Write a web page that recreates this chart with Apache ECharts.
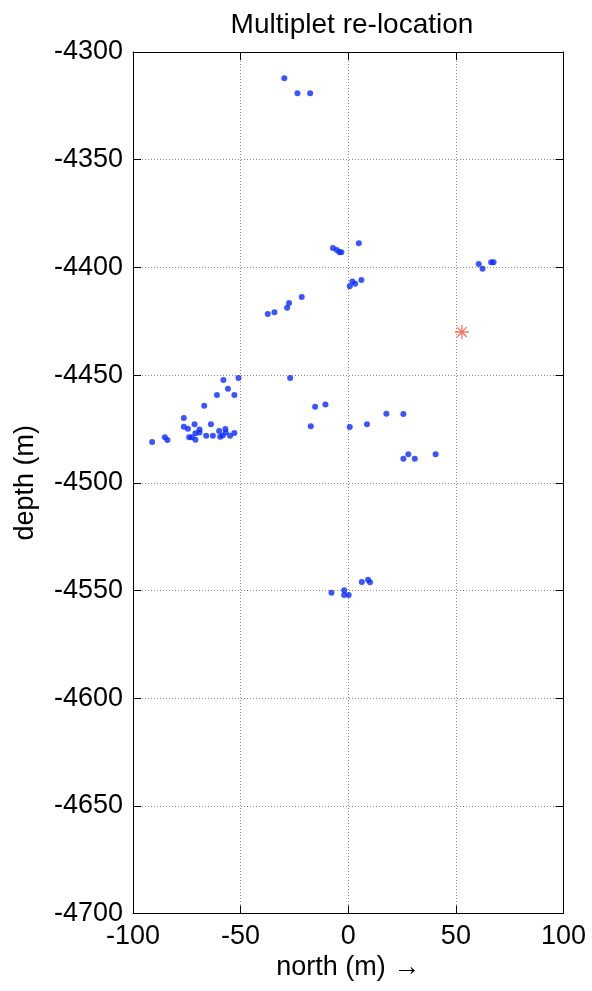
<!DOCTYPE html>
<html>
<head>
<meta charset="utf-8">
<script src="https://cdn.jsdelivr.net/npm/echarts@6/dist/echarts.min.js"></script>
<style>
  html, body { margin: 0; padding: 0; background: #fff; }
  #chart { width: 592px; height: 991px; }
</style>
</head>
<body>
<div id="chart"></div>
<script>
// Relocated multiplet events: north offset (m) and depth (m)
const eventNorth = [
  -58.0, -51.0, -55.9, -61.0, -52.9, -66.9, -76.4, -76.4, -74.5, -71.4,
  -63.8, -69.1, -71.0, -69.1, -73.9, -72.7, -71.0, -66.0, -62.9, -60.0,
  -57.1, -56.9, -59.5, -58.3, -54.9, -52.9, -85.2, -84.0, -91.1,
  -7.1, -5.3, -4.1, -3.2, 4.9, 1.9, 3.2, 0.7, 6.1,
  -21.6, -27.5, -28.4, -34.3, -37.4, -27.0,
  -10.6, -15.4, 17.7, -17.4, 0.7, 8.7,
  60.6, 62.4, 66.4, 67.5,
  25.6, 27.9, 25.6, 30.9, 40.6,
  -29.7, -23.6, -17.7,
  -7.8, -1.9, -1.9, 0.2, 6.3, 9.2, 10.1
];
const eventDepth = [
  -4452.3, -4451.3, -4456.3, -4459.2, -4459.2, -4464.2, -4469.9, -4474.0, -4474.9, -4472.8,
  -4472.8, -4475.2, -4477.0, -4476.7, -4478.9, -4478.9, -4480.0, -4478.1, -4478.1, -4476.0,
  -4475.0, -4476.7, -4478.6, -4478.0, -4478.1, -4476.9, -4478.9, -4480.1, -4481.1,
  -4391.0, -4391.9, -4393.0, -4393.0, -4388.8, -4406.6, -4407.6, -4408.8, -4405.8,
  -4413.7, -4416.5, -4418.7, -4420.8, -4421.6, -4451.3,
  -4463.6, -4464.7, -4467.9, -4473.8, -4474.1, -4472.8,
  -4398.4, -4400.6, -4397.6, -4397.6,
  -4468.1, -4486.8, -4488.8, -4488.8, -4486.8,
  -4312.2, -4319.2, -4319.2,
  -4551.0, -4549.9, -4552.1, -4552.1, -4546.1, -4545.0, -4546.2
];

// Reference (master) event location
const masterNorth = [52.8];
const masterDepth = [-4430.0];

// Axis ranges and tick spacing
const northRange = [-100, 100];
const northStep = 50;
const depthRange = [-4700, -4300];
const depthStep = 50;

const FONT = '"Liberation Sans", Arial, Helvetica, sans-serif';

const eventPoints = eventNorth.map((n, i) => [n, eventDepth[i]]);
const masterPoints = masterNorth.map((n, i) => [n, masterDepth[i]]);

const chart = echarts.init(document.getElementById('chart'), null, { renderer: 'canvas' });

const tickStyle = { show: true, inside: true, length: 8, lineStyle: { color: '#000', width: 1 } };
const boxLine = { show: true, onZero: false, lineStyle: { color: '#000', width: 1 } };
const gridDots = { show: true, lineStyle: { color: '#8c8c8c', width: 1, type: [1, 2] } };
const plainNumber = (v) => String(v);

chart.setOption({
  animation: false,
  backgroundColor: '#fff',
  title: {
    text: 'Multiplet re-location',
    left: 347, top: 6, textAlign: 'center',
    textStyle: { fontFamily: FONT, fontSize: 28, fontWeight: 'normal', color: '#000' }
  },
  grid: { left: 133, right: 28.5, top: 52, bottom: 77.4, containLabel: false, outerBoundsMode: 'none' },
  xAxis: [
    {
      type: 'value', position: 'bottom',
      min: northRange[0], max: northRange[1], interval: northStep,
      name: 'north (m) \u2192', nameLocation: 'middle', nameGap: 40,
      nameTextStyle: { fontFamily: FONT, fontSize: 27, color: '#000' },
      axisLine: boxLine, axisTick: tickStyle, splitLine: gridDots,
      axisLabel: { fontFamily: FONT, fontSize: 27, color: '#000', margin: 9, formatter: plainNumber }
    },
    {
      type: 'value', position: 'top',
      min: northRange[0], max: northRange[1], interval: northStep,
      axisLine: boxLine, axisTick: tickStyle, splitLine: { show: false },
      axisLabel: { show: false }
    }
  ],
  yAxis: [
    {
      type: 'value', position: 'left',
      min: depthRange[0], max: depthRange[1], interval: depthStep,
      name: 'depth (m)', nameLocation: 'middle', nameGap: 94,
      nameTextStyle: { fontFamily: FONT, fontSize: 27, color: '#000' },
      axisLine: boxLine, axisTick: tickStyle, splitLine: gridDots,
      axisLabel: { fontFamily: FONT, fontSize: 27, color: '#000', margin: 10, formatter: plainNumber }
    },
    {
      type: 'value', position: 'right',
      min: depthRange[0], max: depthRange[1], interval: depthStep,
      axisLine: boxLine, axisTick: tickStyle, splitLine: { show: false },
      axisLabel: { show: false }
    }
  ],
  series: [
    {
      name: 'events', type: 'scatter', xAxisIndex: 0, yAxisIndex: 0,
      data: eventPoints, symbol: 'circle', symbolSize: 6,
      itemStyle: { color: '#0a2cff' }
    },
    {
      name: 'master', type: 'scatter', xAxisIndex: 0, yAxisIndex: 0,
      data: masterPoints,
      symbol: 'path://M0,-10L0,10M-10,0L10,0M-7,-7L7,7M-7,7L7,-7',
      symbolSize: 14,
      itemStyle: { color: 'rgba(0,0,0,0)', borderColor: '#ff4d33', borderWidth: 1.3 }
    }
  ]
});
</script>
</body>
</html>
